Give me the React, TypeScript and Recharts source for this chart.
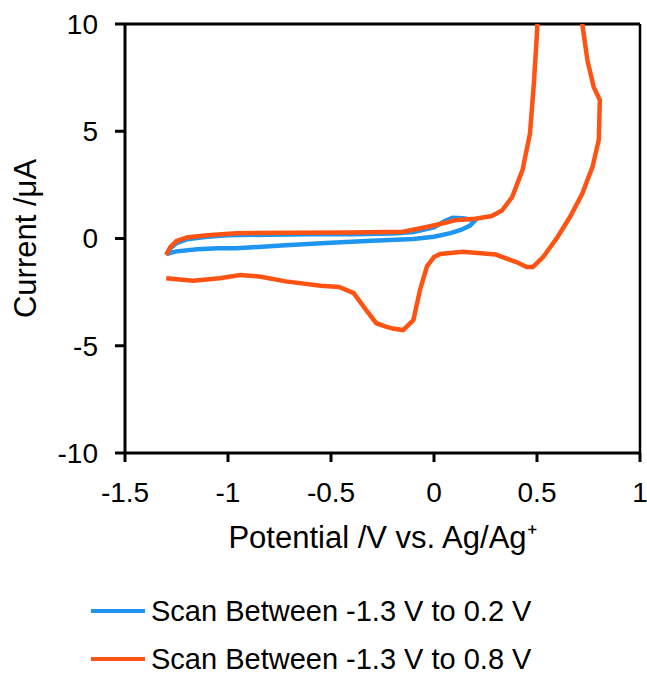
import React from 'react';
import { LineChart, Line, XAxis, YAxis, ReferenceLine } from 'recharts';

// potential (V) / current (uA), in scan order
const blueV = [-1.3, -1.28, -1.25, -1.2, -1.1, -1.0, -0.8, -0.6, -0.4, -0.2, -0.1, 0.0, 0.05, 0.09, 0.14, 0.2, 0.175, 0.13, 0.08, 0.0, -0.1, -0.3, -0.5, -0.7, -0.9, -0.96, -1.05, -1.15, -1.25, -1.3];
const blueI = [-0.75, -0.45, -0.22, -0.04, 0.08, 0.15, 0.18, 0.2, 0.2, 0.23, 0.3, 0.52, 0.8, 0.97, 0.95, 0.85, 0.6, 0.4, 0.25, 0.08, -0.02, -0.1, -0.2, -0.3, -0.42, -0.46, -0.46, -0.5, -0.6, -0.72];

const orangeV = [-1.3, -1.28, -1.25, -1.2, -1.1, -0.96, -0.7, -0.4, -0.15, -0.03, 0.05, 0.1, 0.2, 0.28, 0.33, 0.38, 0.43, 0.466, 0.485, 0.5, 0.515, 0.71, 0.72, 0.745, 0.775, 0.805, 0.8, 0.77, 0.72, 0.66, 0.6, 0.53, 0.48, 0.45, 0.4, 0.3, 0.14, 0.03, 0.0, -0.034, -0.068, -0.1, -0.15, -0.2, -0.23, -0.28, -0.33, -0.39, -0.46, -0.55, -0.72, -0.84, -0.94, -1.04, -1.17, -1.3];
const orangeI = [-0.77, -0.4, -0.12, 0.05, 0.15, 0.25, 0.27, 0.28, 0.32, 0.55, 0.72, 0.85, 0.92, 1.05, 1.3, 1.94, 3.2, 4.9, 7.25, 9.6, 13, 13, 10, 8.3, 7.07, 6.46, 4.6, 3.35, 2.1, 1.0, 0.07, -0.86, -1.33, -1.33, -1.1, -0.75, -0.62, -0.72, -0.86, -1.3, -2.4, -3.8, -4.27, -4.2, -4.12, -3.95, -3.33, -2.55, -2.26, -2.2, -2.0, -1.78, -1.7, -1.85, -1.97, -1.85];

const xTicks = [-1.5, -1, -0.5, 0, 0.5, 1];
const yTicks = [-10, -5, 0, 5, 10];

const seriesNames = ['Scan Between -1.3 V to 0.2 V', 'Scan Between -1.3 V to 0.8 V'];
const COLORS = ['#1E96F0', '#FF5314'];

const FONT = '"Liberation Sans", Arial, sans-serif';

const blueData = blueV.map((x, i) => ({ x, y: blueI[i] }));
const orangeData = orangeV.map((x, i) => ({ x, y: orangeI[i] }));

export default function App() {
  const tickStyle = { fontSize: 28, fill: '#000', fontFamily: FONT };
  return (
    <div style={{ position: 'absolute', left: 0, top: 0, width: 647, height: 676, background: '#fff', fontFamily: FONT, overflow: 'hidden' }}>
      <LineChart width={647} height={560} margin={{ top: 24, right: 7, left: 0, bottom: 7 }}>
        <XAxis
          type="number"
          dataKey="x"
          domain={[-1.5, 1]}
          ticks={xTicks}
          interval={0}
          allowDataOverflow
          height={100}
          tick={tickStyle}
          tickSize={9}
          tickMargin={20}
          axisLine={{ stroke: '#000', strokeWidth: 3 }}
          tickLine={{ stroke: '#000', strokeWidth: 3 }}
          label={{ value: 'Potential /V vs. Ag/Ag⁺', position: 'insideBottom', offset: 5, style: { fontSize: 31, fill: '#000', fontFamily: FONT } }}
        />
        <YAxis
          type="number"
          dataKey="y"
          domain={[-10, 10]}
          ticks={yTicks}
          interval={0}
          allowDataOverflow
          width={125}
          tick={tickStyle}
          tickSize={10}
          tickMargin={17}
          axisLine={{ stroke: '#000', strokeWidth: 3 }}
          tickLine={{ stroke: '#000', strokeWidth: 3 }}
          label={{ value: 'Current /μA', angle: -90, position: 'insideLeft', offset: 25, style: { fontSize: 31, fill: '#000', fontFamily: FONT, textAnchor: 'middle' } }}
        />
        <ReferenceLine y={10} stroke="#000" strokeWidth={3} />
        <ReferenceLine x={1} stroke="#000" strokeWidth={2.5} />
        <Line data={blueData} dataKey="y" type="linear" stroke={COLORS[0]} strokeWidth={4.5} dot={false} isAnimationActive={false} name={seriesNames[0]} />
        <Line data={orangeData} dataKey="y" type="linear" stroke={COLORS[1]} strokeWidth={4.5} dot={false} isAnimationActive={false} name={seriesNames[1]} />
      </LineChart>

      {/* legend */}
      <div style={{ position: 'absolute', left: 91, top: 598, display: 'flex', flexDirection: 'column', gap: 22 }}>
        {seriesNames.map((n, i) => (
          <div key={n} style={{ display: 'flex', alignItems: 'center', height: 26 }}>
            <div style={{ width: 54, height: 4, background: COLORS[i], marginRight: 6 }} />
            <span style={{ fontSize: 29, lineHeight: '26px', color: '#000', whiteSpace: 'nowrap' }}>{n}</span>
          </div>
        ))}
      </div>
    </div>
  );
}
